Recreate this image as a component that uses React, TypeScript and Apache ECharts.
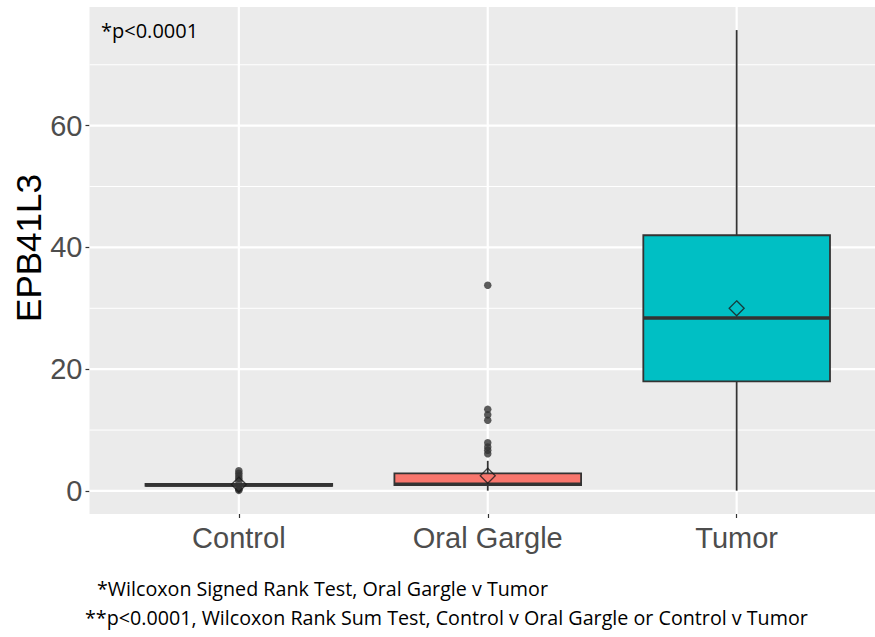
import React, { useEffect, useRef } from "react";
import * as echarts from "echarts";

const categories = ["Control", "Oral Gargle", "Tumor"];
const positions = [1, 2, 3];
// [lower whisker, Q1, median, Q3, upper whisker]
const boxStats = [
  [0.75, 0.85, 1.0, 1.15, 1.3],
  [0.05, 0.98, 1.1, 2.9, 4.95],
  [0.05, 18.0, 28.4, 42.0, 75.7],
];
const means = [1.05, 2.5, 30.0];
const fills = ["#F8766D", "#F8766D", "#00BFC4"];
const controlOutliers = [3.3, 2.9, 2.5, 2.1, 1.6, 0.5, 0.3, 0.1];
const oralOutliers = [33.8, 13.4, 12.5, 11.6, 7.9, 7.2, 6.7, 6.1];
const tumorOutliers: number[] = [];
const yTicks = [0, 20, 40, 60];
const yMinor = [10, 30, 50, 70];
const yTitle = "EPB41L3";
const topNote = "*p<0.0001";
const footNote1 = "*Wilcoxon Signed Rank Test, Oral Gargle v Tumor";
const footNote2 = "**p<0.0001, Wilcoxon Rank Sum Test, Control v Oral Gargle or Control v Tumor";

export default function App() {
  const ref = useRef<HTMLDivElement>(null);
  useEffect(() => {
    if (!ref.current) return;
    const chart = echarts.init(ref.current, null, { renderer: "svg" });

    const outlierData: number[][] = [];
    [controlOutliers, oralOutliers, tumorOutliers].forEach((arr, i) =>
      arr.forEach((v) => outlierData.push([positions[i], v]))
    );

    const hLine = (width: number) => (params: any, api: any) => {
      const cs = params.coordSys;
      const p = api.coord([2, api.value(1)]);
      return {
        type: "line",
        shape: { x1: cs.x, y1: p[1], x2: cs.x + cs.width, y2: p[1] },
        style: { stroke: "#FFFFFF", lineWidth: width },
      };
    };
    const vLine = (width: number) => (params: any, api: any) => {
      const cs = params.coordSys;
      const p = api.coord([api.value(0), 0]);
      return {
        type: "line",
        shape: { x1: p[0], y1: cs.y, x2: p[0], y2: cs.y + cs.height },
        style: { stroke: "#FFFFFF", lineWidth: width },
      };
    };

    const option: any = {
      animation: false,
      grid: {
        left: 89.5,
        right: 0,
        top: 7,
        bottom: 123,
        show: true,
        backgroundColor: "#EBEBEB",
        borderWidth: 0,
      },
      xAxis: {
        type: "value",
        min: 0.4,
        max: 3.6,
        axisLine: { show: true, onZero: false, lineStyle: { opacity: 0 } },
        axisTick: { show: true, customValues: positions, length: 4, lineStyle: { color: "#333333", width: 1.2 } },
        axisLabel: {
          customValues: positions,
          formatter: (v: number) => categories[Math.round(v) - 1] ?? "",
          fontSize: 29,
          color: "#4D4D4D",
          fontFamily: "Liberation Sans, Arial, sans-serif",
          margin: 9,
        },
        splitLine: { show: false },
      },
      yAxis: {
        type: "value",
        min: -3.785,
        max: 79.49,
        axisLine: { show: true, onZero: false, lineStyle: { opacity: 0 } },
        axisTick: { show: true, customValues: yTicks, length: 4, lineStyle: { color: "#333333", width: 1.2 } },
        axisLabel: {
          customValues: yTicks,
          fontSize: 29,
          color: "#4D4D4D",
          fontFamily: "Liberation Sans, Arial, sans-serif",
          margin: 7,
        },
        splitLine: { show: false },
      },
      series: [
        {
          type: "custom",
          z: 1,
          silent: true,
          renderItem: hLine(1),
          data: yMinor.map((v) => [2, v]),
        },
        {
          type: "custom",
          z: 1,
          silent: true,
          renderItem: hLine(2.2),
          data: yTicks.map((v) => [2, v]),
        },
        {
          type: "custom",
          z: 1,
          silent: true,
          renderItem: vLine(2.2),
          data: positions.map((v) => [v, 0]),
        },
        {
          type: "custom",
          z: 3,
          silent: true,
          renderItem: (params: any, api: any) => {
            const x = api.value(0);
            const lo = api.coord([x, api.value(1)]);
            const q1 = api.coord([x, api.value(2)]);
            const med = api.coord([x, api.value(3)]);
            const q3 = api.coord([x, api.value(4)]);
            const hi = api.coord([x, api.value(5)]);
            const halfW = api.size([0.75, 0])[0] / 2;
            const stroke = "#333333";
            return {
              type: "group",
              children: [
                { type: "line", shape: { x1: lo[0], y1: lo[1], x2: q1[0], y2: q1[1] }, style: { stroke, lineWidth: 1.8 } },
                { type: "line", shape: { x1: q3[0], y1: q3[1], x2: hi[0], y2: hi[1] }, style: { stroke, lineWidth: 1.8 } },
                {
                  type: "rect",
                  shape: { x: q1[0] - halfW, y: q3[1], width: 2 * halfW, height: q1[1] - q3[1] },
                  style: { fill: fills[params.dataIndex], stroke, lineWidth: 1.8 },
                },
                {
                  type: "line",
                  shape: { x1: med[0] - halfW, y1: med[1], x2: med[0] + halfW, y2: med[1] },
                  style: { stroke, lineWidth: 3.6 },
                },
              ],
            };
          },
          data: boxStats.map((s, i) => [positions[i], ...s]),
        },
        {
          type: "scatter",
          z: 4,
          silent: true,
          symbol: "circle",
          symbolSize: 7.5,
          itemStyle: { color: "#333333" },
          data: outlierData,
        },
        {
          type: "scatter",
          z: 5,
          silent: true,
          symbol: "diamond",
          symbolSize: [15, 15],
          itemStyle: { color: "rgba(0,0,0,0)", borderColor: "#1A1A1A", borderWidth: 1.3 },
          data: means.map((m, i) => [positions[i], m]),
        },
      ],
      graphic: [
        {
          type: "text",
          x: 28,
          y: 248,
          rotation: Math.PI / 2,
          style: {
            text: yTitle,
            fontSize: 35,
            fill: "#000000",
            fontFamily: "Liberation Sans, Arial, sans-serif",
            align: "center",
            verticalAlign: "middle",
          },
        },
        {
          type: "text",
          x: 101,
          y: 30,
          style: {
            text: topNote,
            fontSize: 20,
            fill: "#000000",
            fontFamily: "Open Sans, sans-serif",
            align: "left",
            verticalAlign: "middle",
          },
        },
        {
          type: "text",
          x: 97,
          y: 588,
          style: {
            text: footNote1,
            fontSize: 19.7,
            fill: "#000000",
            fontFamily: "Open Sans, sans-serif",
            align: "left",
            verticalAlign: "middle",
          },
        },
        {
          type: "text",
          x: 85,
          y: 617,
          style: {
            text: footNote2,
            fontSize: 19.7,
            fill: "#000000",
            fontFamily: "Open Sans, sans-serif",
            align: "left",
            verticalAlign: "middle",
          },
        },
      ],
    };
    chart.setOption(option);
    return () => chart.dispose();
  }, []);
  return (
    <div
      style={{
        position: "fixed",
        left: 0,
        top: 0,
        width: 875,
        height: 637,
        overflow: "hidden",
        background: "#FFFFFF",
      }}
    >
      <div ref={ref} style={{ width: 886, height: 637 }} />
    </div>
  );
}
